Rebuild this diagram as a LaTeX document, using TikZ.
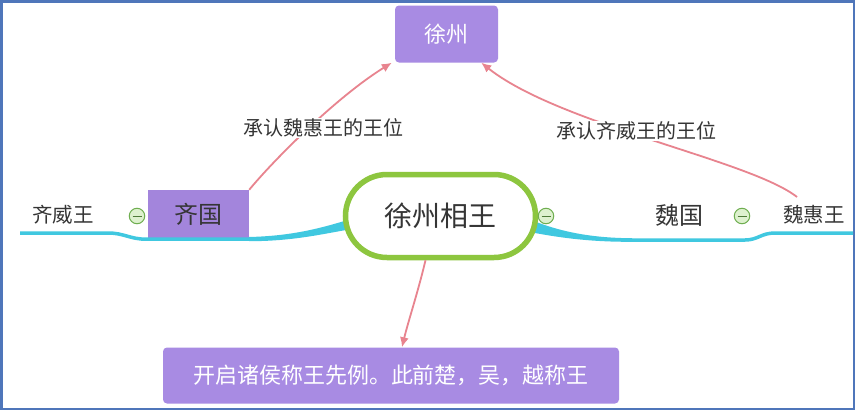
\documentclass[tikz,border=0pt]{standalone}
\usepackage{fontspec}
\setmainfont{Noto Sans CJK SC}
\usetikzlibrary{arrows.meta,calc}
\definecolor{frameblue}{HTML}{4F76BA}
\definecolor{boxpurple}{HTML}{A88BE3}
\definecolor{qipurple}{HTML}{A385DC}
\definecolor{mapgreen}{HTML}{8DC63F}
\definecolor{mapcyan}{HTML}{40C8E0}
\definecolor{relpink}{HTML}{E8848F}
\definecolor{txtgray}{HTML}{353535}
\definecolor{iconfill}{HTML}{DDF1CE}
\definecolor{iconline}{HTML}{6FAE50}
\tikzset{
  purplebox/.style={fill=boxpurple, rounded corners=4pt, text=white, inner sep=0pt},
  plaintext/.style={text=txtgray, inner sep=1pt},
  relarrow/.style={draw=relpink, line width=1.8pt, -{Latex[length=10pt,width=9pt]}},
  rellabel/.style={fill=white, text=txtgray, inner sep=1pt, font=\fontsize{20}{24}\selectfont},
  collapse/.style={circle, draw=iconline, fill=iconfill, line width=1pt, minimum size=15.5pt, inner sep=0pt,
    path picture={\draw[iconline!70!black, line width=1pt] ([xshift=-4.5pt]path picture bounding box.center) -- ([xshift=4.5pt]path picture bounding box.center);}},
  branch/.style={draw=mapcyan, line width=3.5pt},
}
\begin{document}
\begin{tikzpicture}[x=1pt,y=-1pt]
\path[use as bounding box, fill=white] (0,0) rectangle (855,410);
\draw[frameblue, line width=2.5pt] (1.25,1.25) rectangle (853.75,408.75);

% thick branch parts
\fill[mapcyan] (249,237) .. controls (290,236) and (318,229) .. (346,220.5) -- (346,230) .. controls (318,235) and (290,241.2) .. (249,241.2) -- cycle;
\fill[mapcyan] (535,221.5) .. controls (562,232) and (592,238) .. (632,238.2) -- (632,241.8) .. controls (592,242) and (562,238) .. (535,233) -- cycle;

% nodes
\node[purplebox, minimum width=103pt, minimum height=57pt, font=\fontsize{22}{26}\selectfont] (xz) at (446.5,34) {徐州};
\node[fill=qipurple, minimum width=101pt, minimum height=49pt, inner sep=0pt, text=txtgray, font=\fontsize{24}{28}\selectfont] (qg) at (198.5,214.5) {齐国};
\node[plaintext, font=\fontsize{24}{28}\selectfont] (wg) at (679,215) {魏国};
\node[plaintext, font=\fontsize{20.5}{24}\selectfont] (qww) at (63,215) {齐威王};
\node[plaintext, font=\fontsize{20.5}{24}\selectfont] (whw) at (814,215) {魏惠王};
\node[purplebox, minimum width=456pt, minimum height=56pt, font=\fontsize{22}{26}\selectfont] (kq) at (391,375.5) {开启诸侯称王先例。此前楚，吴，越称王};

% thin branch lines
\draw[branch] (20,233) -- (108,233) .. controls (124,233) and (130,239.2) .. (146,239.2) -- (252,239.2);
\draw[branch] (628,240) -- (745,240) .. controls (758,240) and (761,233) .. (775,233) -- (853,233);

% central topic
\node[draw=mapgreen, line width=5.5pt, fill=white, rounded corners=41.5pt, minimum width=190pt, minimum height=83pt, inner sep=0pt, text=txtgray, font=\fontsize{28}{32}\selectfont] (ct) at (440.5,216) {徐州相王};

% collapse icons
\node[collapse] (c1) at (137,216) {};
\node[collapse] (c2) at (546,216) {};
\node[collapse] (c3) at (742,216) {};

% relationships
\coordinate (whtop) at (797,197);
\draw[relarrow] (qg.north east) .. controls (272,162) and (335,98) .. ([xshift=-3pt]xz.south west);
\node[rellabel] (l1) at (323,128) {承认魏惠王的王位};
\draw[relarrow] (whtop) .. controls (750,160) and (560,125) .. ([xshift=-17pt]xz.south east);
\node[rellabel] (l2) at (636,131) {承认齐威王的王位};
\draw[relarrow] ([xshift=-15pt]ct.south) .. controls (418,292) and (408,322) .. ([xshift=11pt]kq.north);
\end{tikzpicture}
\end{document}
